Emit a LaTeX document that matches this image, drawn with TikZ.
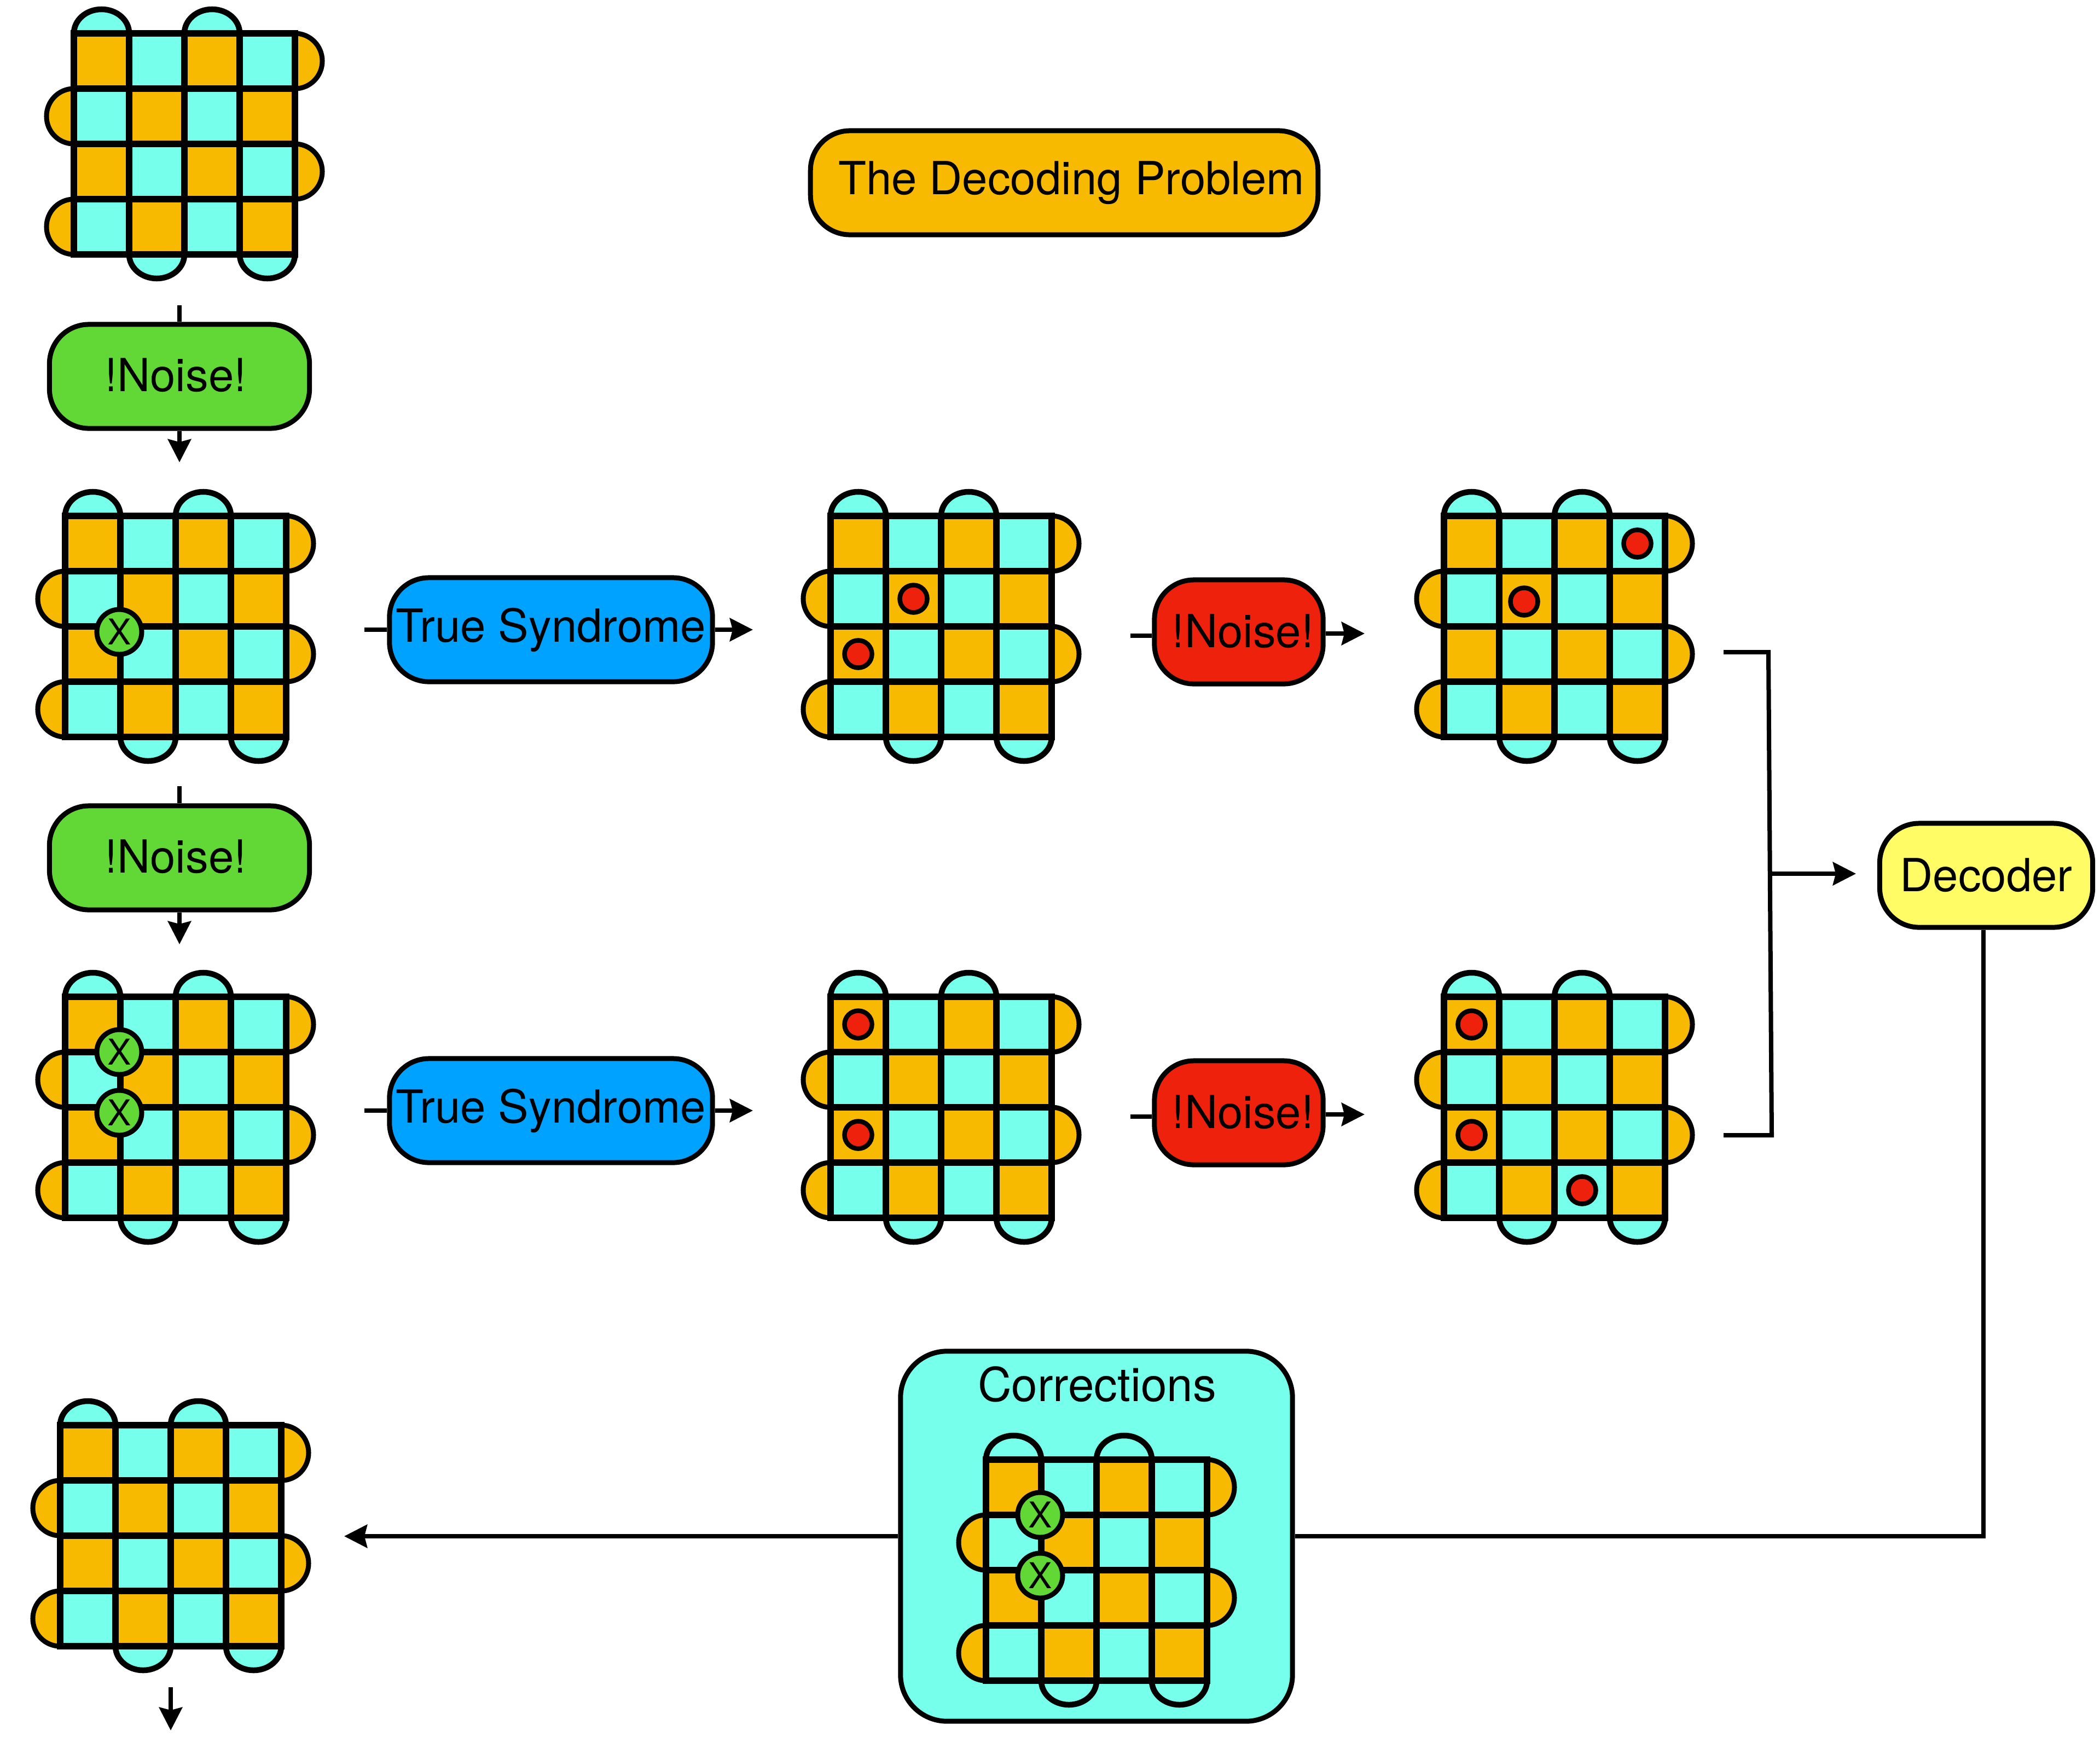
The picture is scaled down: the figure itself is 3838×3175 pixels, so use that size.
\documentclass[tikz,border=0pt]{standalone}
\usepackage{fontspec}
\setmainfont{TeX Gyre Heros}
\usetikzlibrary{arrows.meta}
\definecolor{latorange}{HTML}{F8BA00}
\definecolor{latcyan}{HTML}{76FFEA}
\definecolor{boxgreen}{HTML}{61D836}
\definecolor{boxblue}{HTML}{00A2FF}
\definecolor{boxred}{HTML}{EE220C}
\definecolor{boxyellow}{HTML}{FFFC66}
\newcommand{\boxfont}{\fontsize{23.7}{28}\selectfont}
\tikzset{
  box/.style={draw,rounded corners=.72cm,line width=.09cm,inner sep=0pt,minimum height=1.9cm,font=\boxfont},
  xmark/.style={circle,draw,line width=.09cm,fill=boxgreen,minimum size=.82cm,inner sep=0pt,xshift=-.02cm,font=\fontsize{18.5}{20}\selectfont},
  errdot/.style={circle,draw,line width=.085cm,fill=boxred,minimum size=.5cm,inner sep=0pt},
  link/.style={line width=.08cm},
  flow/.style={line width=.08cm,-{Stealth[length=.42cm,width=.42cm,inset=.05cm]}},
  bump/.style={draw,line width=.09cm},
  lattice/.pic={
    \foreach \r in {0,2} \path[bump,fill=latorange] (404,\r*101) arc[start angle=90,end angle=-90,x radius=.5cm,y radius=.505cm] -- cycle;
    \foreach \r in {1,3} \path[bump,fill=latorange] (0,\r*101) arc[start angle=90,end angle=270,x radius=.5cm,y radius=.505cm] -- cycle;
    \foreach \c in {0,2} \path[bump,fill=latcyan,line width=.105cm] (\c*101,0) arc[start angle=180,end angle=0,x radius=.505cm,y radius=.44cm] -- cycle;
    \foreach \c in {1,3} \path[bump,fill=latcyan,line width=.105cm] (\c*101,404) arc[start angle=180,end angle=360,x radius=.505cm,y radius=.44cm] -- cycle;
    \foreach \c in {0,1,2,3} \foreach \r in {0,1,2,3} {
      \pgfmathtruncatemacro{\pty}{mod(\c+\r,2)}
      \ifnum\pty=0 \def\col{latorange}\else \def\col{latcyan}\fi
      \path[draw,line width=.12cm,fill=\col] (\c*101,\r*101) rectangle ++(101,101);
      \coordinate (-c\c\r) at (\c*101+50.5,\r*101+50.5);
      \coordinate (-v\c\r) at (\c*101,\r*101);
    }
  }
}
\begin{document}
\begin{tikzpicture}[x=.01cm,y=-.01cm]
\useasboundingbox (0,0) rectangle (3838,3175);
% boxes
\node[box,fill=latorange,minimum width=9.27cm] (title) at (1945,334) {\hspace{.26cm}The Decoding Problem};
\node[box,fill=boxgreen,minimum width=4.75cm] (noiseA) at (328,688) {\raisebox{.05cm}{!Noise!\hspace{.14cm}}};
\node[box,fill=boxgreen,minimum width=4.75cm] (noiseB) at (328,1568) {\raisebox{.05cm}{!Noise!\hspace{.14cm}}};
\node[box,fill=boxblue,minimum width=5.9cm] (synA) at (1007,1151) {True Syndrome};
\node[box,fill=boxblue,minimum width=5.9cm] (synB) at (1007,2030) {True Syndrome};
\node[box,fill=boxred,minimum width=3.08cm] (measA) at (2264,1155) {\raisebox{.03cm}{\hspace{.15cm}!Noise!}};
\node[box,fill=boxred,minimum width=3.08cm] (measB) at (2264,2034) {\raisebox{.03cm}{\hspace{.15cm}!Noise!}};
\node[box,fill=boxyellow,minimum width=3.89cm] (decoder) at (3630,1600) {Decoder};
\node[box,fill=latcyan,minimum width=7.16cm,minimum height=6.76cm,rounded corners=.85cm] (corr) at (2004,2808) {};
\node[font=\fontsize{24.3}{28}\selectfont] (corrlabel) at (2005,2530) {Corrections};
% lattices
\pic (start) at (135,61) {lattice};
\pic (latA) at (119,943) {lattice};
\pic (latB) at (119,1822) {lattice};
\pic (trueA) at (1518,943) {lattice};
\pic (trueB) at (1518,1822) {lattice};
\pic (obsA) at (2639,943) {lattice};
\pic (obsB) at (2639,1822) {lattice};
\pic (finish) at (110,2605) {lattice};
\pic (fix) at (1802,2668) {lattice};
% errors
\node[xmark] (xa) at ([yshift=-.1cm]latA-v12) {X};
\node[xmark] (xb) at (latB-v11) {X};
\node[xmark] (xc) at ([yshift=-.1cm]latB-v12) {X};
\node[xmark] (xd) at (fix-v11) {X};
\node[xmark] (xe) at ([yshift=-.1cm]fix-v12) {X};
% syndromes
\node[errdot] (ea) at (trueA-c11) {};
\node[errdot] (eb) at (trueA-c02) {};
\node[errdot] (ec) at (obsA-c30) {};
\node[errdot] (ed) at ([xshift=-.05cm,yshift=-.05cm]obsA-c11) {};
\node[errdot] (ee) at (trueB-c00) {};
\node[errdot] (ef) at (trueB-c02) {};
\node[errdot] (eg) at (obsB-c00) {};
\node[errdot] (eh) at (obsB-c02) {};
\node[errdot] (ei) at (obsB-c23) {};
% connectors
\coordinate (inA) at (328,558);
\coordinate (outA) at (328,845);
\coordinate (inB) at (328,1437);
\coordinate (outB) at (328,1726);
\coordinate (inC) at (666,1151);
\coordinate (outC) at (1376,1151);
\coordinate (inD) at (666,2030);
\coordinate (outD) at (1376,2030);
\coordinate (inE) at (2066,1162);
\coordinate (outE) at (2494,1158);
\coordinate (inF) at (2066,2041);
\coordinate (outF) at (2494,2037);
\coordinate (brA) at (3150,1192);
\coordinate (brB) at (3232,1192);
\coordinate (brC) at (3238,2075);
\coordinate (brD) at (3150,2075);
\coordinate (brM) at (3236,1597);
\coordinate (brT) at (3392,1597);
\coordinate (turn) at (3625,2808);
\coordinate (outG) at (629,2808);
\coordinate (endA) at (312,3084);
\coordinate (endB) at (312,3163);
\path[link]
  (inA) edge (noiseA.north)
  (inB) edge (noiseB.north)
  (inC) edge (synA.west)
  (inD) edge (synB.west)
  (inE) edge (inE -| measA.west)
  (inF) edge (inF -| measB.west);
\path[flow]
  (noiseA.south) edge (outA)
  (noiseB.south) edge (outB)
  (synA.east) edge (outC)
  (synB.east) edge (outD)
  (outE -| measA.east) edge (outE)
  (outF -| measB.east) edge (outF)
  (brM) edge (brT)
  (corr.west) edge (outG)
  (endA) edge (endB);
\draw[link] (brA) -- (brB) -- (brC) -- (brD);
\draw[link] (decoder.south -| turn) -- (turn) -- (corr.east);
\end{tikzpicture}
\end{document}
